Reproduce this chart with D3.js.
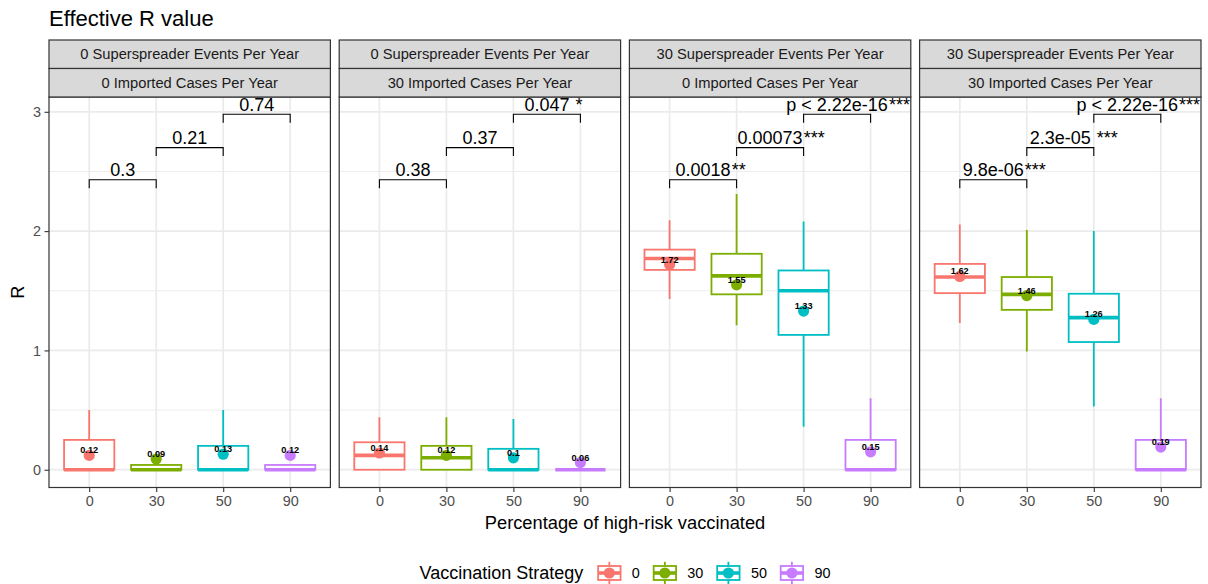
<!DOCTYPE html>
<html>
<head>
<meta charset="utf-8">
<script src="https://cdn.jsdelivr.net/npm/d3@7"></script>
<style>
  html, body { margin: 0; padding: 0; background: #fff; }
  svg { display: block; font-family: "Liberation Sans", Arial, Helvetica, sans-serif; }
</style>
</head>
<body>
<svg id="chart" width="1208" height="584"></svg>
<script>
// ---- data ---------------------------------------------------------------
const superspreaderLabels = [
  "0 Superspreader Events Per Year",
  "0 Superspreader Events Per Year",
  "30 Superspreader Events Per Year",
  "30 Superspreader Events Per Year"
];
const importedLabels = [
  "0 Imported Cases Per Year",
  "30 Imported Cases Per Year",
  "0 Imported Cases Per Year",
  "30 Imported Cases Per Year"
];
const strategies = ["0", "30", "50", "90"];
const strategyColors = ["#F8766D", "#7CAE00", "#00BFC4", "#C77CFF"];

// box statistics per facet (rows) and strategy (columns)
const whiskerLow = [
  [0, 0, 0, 0],
  [0, 0, 0, 0],
  [1.43, 1.21, 0.36, 0],
  [1.23, 0.99, 0.53, 0]
];
const lowerHinge = [
  [0, 0, 0, 0],
  [0, 0, 0, 0],
  [1.675, 1.47, 1.13, 0],
  [1.48, 1.34, 1.07, 0]
];
const medians = [
  [0, 0, 0, 0],
  [0.12, 0.10, 0, 0],
  [1.77, 1.625, 1.50, 0],
  [1.615, 1.47, 1.275, 0]
];
const upperHinge = [
  [0.25, 0.04, 0.20, 0.04],
  [0.23, 0.20, 0.175, 0],
  [1.845, 1.81, 1.67, 0.25],
  [1.725, 1.615, 1.475, 0.25]
];
const whiskerHigh = [
  [0.50, 0.04, 0.50, 0.04],
  [0.44, 0.44, 0.425, 0],
  [2.09, 2.31, 2.08, 0.60],
  [2.055, 2.01, 2.0, 0.60]
];
const means = [
  [0.12, 0.09, 0.13, 0.12],
  [0.14, 0.12, 0.10, 0.06],
  [1.72, 1.55, 1.33, 0.15],
  [1.62, 1.46, 1.26, 0.19]
];

// pairwise comparisons between neighbouring strategies
const comparisonPairs = [["0", "30"], ["30", "50"], ["50", "90"]];
const bracketHeights = [2.43, 2.70, 2.98];
const pLabels = [
  ["0.3", "0.21", "0.74"],
  ["0.38", "0.37", "0.047"],
  ["0.0018", "0.00073", "p < 2.22e-16"],
  ["9.8e-06", "2.3e-05", "p < 2.22e-16"]
];
const pStars = [
  ["", "", ""],
  ["", "", " *"],
  ["**", "***", "***"],
  ["***", " ***", "***"]
];

const yTicks = [0, 1, 2, 3];
const yMinor = [0.5, 1.5, 2.5];

// ---- layout -------------------------------------------------------------
const svg = d3.select("#chart");
const panelLeft = 49, panelRight = 1201, panelGap = 8.8;
const nPanels = 4;
const panelW = (panelRight - panelLeft - panelGap * (nPanels - 1)) / nPanels;
const stripTop = 40, stripH = 28.5;
const panelTop = stripTop + 2 * stripH, panelBottom = 487.5;

const y = d3.scaleLinear().domain([-0.149, 3.124]).range([panelBottom, panelTop]);

const gridCol = "#EBEBEB", borderCol = "#333333", axisTextCol = "#4D4D4D";

// title
svg.append("text")
  .attr("x", panelLeft).attr("y", 26)
  .attr("font-size", 22).attr("fill", "#000")
  .text("Effective R value");

// y-axis title
svg.append("text")
  .attr("transform", `translate(24,${(panelTop + panelBottom) / 2}) rotate(-90)`)
  .attr("text-anchor", "middle")
  .attr("font-size", 18.2).attr("fill", "#000")
  .text("R");

// x-axis title
svg.append("text")
  .attr("x", (panelLeft + panelRight) / 2).attr("y", 529)
  .attr("text-anchor", "middle")
  .attr("font-size", 18.3).attr("fill", "#000")
  .text("Percentage of high-risk vaccinated");

const defs = svg.append("defs");

for (let p = 0; p < nPanels; p++) {
  const x0 = panelLeft + p * (panelW + panelGap);
  const x = d3.scalePoint().domain(strategies).range([x0, x0 + panelW]).padding(0.6);
  const g = svg.append("g");

  defs.append("clipPath").attr("id", "clip" + p)
    .append("rect").attr("x", x0).attr("y", panelTop)
    .attr("width", panelW).attr("height", panelBottom - panelTop);

  // panel background + grid
  g.append("rect").attr("x", x0).attr("y", panelTop)
    .attr("width", panelW).attr("height", panelBottom - panelTop).attr("fill", "#fff");
  g.selectAll(".minor").data(yMinor).join("line")
    .attr("x1", x0).attr("x2", x0 + panelW)
    .attr("y1", d => y(d)).attr("y2", d => y(d))
    .attr("stroke", gridCol).attr("stroke-width", 0.9);
  g.selectAll(".major").data(yTicks).join("line")
    .attr("x1", x0).attr("x2", x0 + panelW)
    .attr("y1", d => y(d)).attr("y2", d => y(d))
    .attr("stroke", gridCol).attr("stroke-width", 1.7);
  g.selectAll(".vgrid").data(strategies).join("line")
    .attr("x1", d => x(d)).attr("x2", d => x(d))
    .attr("y1", panelTop).attr("y2", panelBottom)
    .attr("stroke", gridCol).attr("stroke-width", 1.7);

  const boxW = x.step() * 0.75;
  const plot = g.append("g").attr("clip-path", `url(#clip${p})`);

  strategies.forEach((s, i) => {
    const cx = x(s), col = strategyColors[i];
    const bg = plot.append("g");
    // whiskers
    bg.append("line").attr("x1", cx).attr("x2", cx)
      .attr("y1", y(upperHinge[p][i])).attr("y2", y(whiskerHigh[p][i]))
      .attr("stroke", col).attr("stroke-width", 1.8);
    bg.append("line").attr("x1", cx).attr("x2", cx)
      .attr("y1", y(lowerHinge[p][i])).attr("y2", y(whiskerLow[p][i]))
      .attr("stroke", col).attr("stroke-width", 1.8);
    // box
    bg.append("rect")
      .attr("x", cx - boxW / 2).attr("width", boxW)
      .attr("y", y(upperHinge[p][i]))
      .attr("height", y(lowerHinge[p][i]) - y(upperHinge[p][i]))
      .attr("fill", "#fff").attr("stroke", col).attr("stroke-width", 1.8);
    // median
    bg.append("line")
      .attr("x1", cx - boxW / 2).attr("x2", cx + boxW / 2)
      .attr("y1", y(medians[p][i])).attr("y2", y(medians[p][i]))
      .attr("stroke", col).attr("stroke-width", 3.6);
  });

  // mean points and their labels
  strategies.forEach((s, i) => {
    plot.append("circle")
      .attr("cx", x(s)).attr("cy", y(means[p][i])).attr("r", 5.6)
      .attr("fill", strategyColors[i]);
  });
  strategies.forEach((s, i) => {
    plot.append("text")
      .attr("x", x(s)).attr("y", y(means[p][i]) - 2)
      .attr("text-anchor", "middle")
      .attr("font-size", 9.2).attr("font-weight", "bold").attr("fill", "#000")
      .text(String(+means[p][i].toFixed(2)));
  });

  // comparison brackets
  comparisonPairs.forEach((pair, k) => {
    const xa = x(pair[0]), xb = x(pair[1]), yy = y(bracketHeights[k]);
    const tip = 8.5;
    plot.append("path")
      .attr("d", `M${xa},${yy + tip}V${yy}H${xb}V${yy + tip}`)
      .attr("fill", "none").attr("stroke", "#000").attr("stroke-width", 1.1);
    const mid = (xa + xb) / 2;
    const t = plot.append("text")
      .attr("x", mid).attr("y", yy - 3.5)
      .attr("text-anchor", "middle")
      .attr("font-size", 18).attr("fill", "#000")
      .text(pLabels[p][k]);
    if (pStars[p][k]) {
      const w = t.node().getComputedTextLength();
      plot.append("text")
        .attr("x", mid + w / 2 + 1).attr("y", yy - 3.5)
        .attr("font-size", 18).attr("fill", "#000")
        .attr("xml:space", "preserve")
        .style("white-space", "pre")
        .text(pStars[p][k]);
    }
  });

  // panel border
  g.append("rect").attr("x", x0).attr("y", panelTop)
    .attr("width", panelW).attr("height", panelBottom - panelTop)
    .attr("fill", "none").attr("stroke", borderCol).attr("stroke-width", 1.2);

  // facet strips
  [superspreaderLabels[p], importedLabels[p]].forEach((lab, r) => {
    const sy = stripTop + r * stripH;
    g.append("rect").attr("x", x0).attr("y", sy)
      .attr("width", panelW).attr("height", stripH)
      .attr("fill", "#D9D9D9").attr("stroke", borderCol).attr("stroke-width", 1.2);
    g.append("text")
      .attr("x", x0 + panelW / 2).attr("y", sy + stripH / 2 + 5)
      .attr("text-anchor", "middle")
      .attr("font-size", 14.7).attr("fill", "#1A1A1A")
      .text(lab);
  });

  // x axis
  const xAxis = g.append("g").attr("transform", `translate(0,${panelBottom})`)
    .call(d3.axisBottom(x).tickSize(4.5).tickPadding(3.5));
  xAxis.select(".domain").remove();
  xAxis.selectAll(".tick line").attr("stroke", borderCol).attr("stroke-width", 1.1);
  xAxis.selectAll(".tick text").attr("fill", axisTextCol)
    .attr("font-size", 14.4).attr("font-family", null);

  // y axis on the first panel only
  if (p === 0) {
    const yAxis = g.append("g").attr("transform", `translate(${x0},0)`)
      .call(d3.axisLeft(y).tickValues(yTicks).tickFormat(d3.format("d"))
        .tickSize(4.5).tickPadding(3.5));
    yAxis.select(".domain").remove();
    yAxis.selectAll(".tick line").attr("stroke", borderCol).attr("stroke-width", 1.1);
    yAxis.selectAll(".tick text").attr("fill", axisTextCol)
      .attr("font-size", 14.4).attr("font-family", null);
  }
}

// ---- legend -------------------------------------------------------------
const legend = svg.append("g");
const legendY = 573;
const keyW = 28, keyH = 28;
const legTitle = legend.append("text")
  .attr("x", 0).attr("y", legendY + 6)
  .attr("font-size", 18).attr("fill", "#000")
  .text("Vaccination Strategy");
let cursor = legTitle.node().getComputedTextLength() + 12;
strategies.forEach((s, i) => {
  const col = strategyColors[i];
  const kx = cursor, cxk = kx + keyW / 2;
  const k = legend.append("g");
  k.append("line").attr("x1", cxk).attr("x2", cxk)
    .attr("y1", legendY - keyH * 0.4).attr("y2", legendY + keyH * 0.4)
    .attr("stroke", col).attr("stroke-width", 1.8);
  k.append("rect").attr("x", kx + keyW * 0.1).attr("width", keyW * 0.8)
    .attr("y", legendY - keyH * 0.25).attr("height", keyH * 0.5)
    .attr("fill", "#fff").attr("stroke", col).attr("stroke-width", 1.8);
  k.append("line").attr("x1", kx + keyW * 0.1).attr("x2", kx + keyW * 0.9)
    .attr("y1", legendY).attr("y2", legendY)
    .attr("stroke", col).attr("stroke-width", 3.6);
  k.append("circle").attr("cx", cxk).attr("cy", legendY).attr("r", 5.6).attr("fill", col);
  const lt = legend.append("text")
    .attr("x", kx + keyW + 8.5).attr("y", legendY + 5)
    .attr("font-size", 14.4).attr("fill", "#000")
    .text(s);
  cursor = kx + keyW + 8.5 + lt.node().getComputedTextLength() + 11;
});
const legendWidth = cursor - 11;
legend.attr("transform", `translate(${(panelLeft + panelRight) / 2 - legendWidth / 2},0)`);
</script>
</body>
</html>
